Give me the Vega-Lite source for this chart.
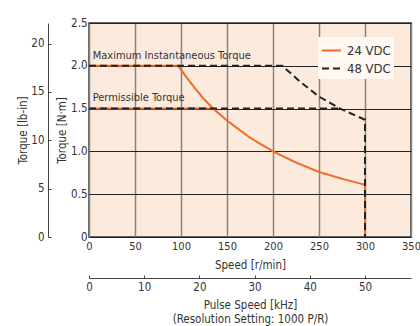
{
  "$schema": "https://vega.github.io/schema/vega-lite/v6.json",
  "width": 322,
  "height": 214,
  "autosize": {"type": "none"},
  "padding": {"left": 89, "top": 23, "right": 9, "bottom": 89},
  "background": "white",
  "config": {
    "font": "DejaVu Sans Condensed, sans-serif",
    "view": {"fill": "#FCEADC", "stroke": "#333333", "strokeWidth": 1.5},
    "axis": {"labelColor": "#333333", "titleColor": "#333333", "labelFontSize": 11.5, "titleFontSize": 11.5, "titleFontWeight": "normal", "domainColor": "#444444", "tickColor": "#444444"}
  },
  "datasets": {
    "curves": [
      {"series": "24 VDC", "seg": "24max", "i": 1, "speed": 0, "torque": 2.0},
      {"series": "24 VDC", "seg": "24max", "i": 2, "speed": 97, "torque": 2.0},
      {"series": "24 VDC", "seg": "24max", "i": 3, "speed": 105, "torque": 1.88},
      {"series": "24 VDC", "seg": "24max", "i": 4, "speed": 115, "torque": 1.74},
      {"series": "24 VDC", "seg": "24max", "i": 5, "speed": 125, "torque": 1.61},
      {"series": "24 VDC", "seg": "24max", "i": 6, "speed": 135, "torque": 1.5},
      {"series": "24 VDC", "seg": "24max", "i": 7, "speed": 150, "torque": 1.36},
      {"series": "24 VDC", "seg": "24max", "i": 8, "speed": 175, "torque": 1.16},
      {"series": "24 VDC", "seg": "24max", "i": 9, "speed": 200, "torque": 1.0},
      {"series": "24 VDC", "seg": "24max", "i": 10, "speed": 225, "torque": 0.87},
      {"series": "24 VDC", "seg": "24max", "i": 11, "speed": 250, "torque": 0.76},
      {"series": "24 VDC", "seg": "24max", "i": 12, "speed": 275, "torque": 0.68},
      {"series": "24 VDC", "seg": "24max", "i": 13, "speed": 300, "torque": 0.61},
      {"series": "24 VDC", "seg": "24max", "i": 14, "speed": 300, "torque": 0},
      {"series": "24 VDC", "seg": "24perm", "i": 1, "speed": 0, "torque": 1.5},
      {"series": "24 VDC", "seg": "24perm", "i": 2, "speed": 135, "torque": 1.5},
      {"series": "48 VDC", "seg": "48max", "i": 1, "speed": 0, "torque": 2.0},
      {"series": "48 VDC", "seg": "48max", "i": 2, "speed": 210, "torque": 2.0},
      {"series": "48 VDC", "seg": "48max", "i": 3, "speed": 230, "torque": 1.81},
      {"series": "48 VDC", "seg": "48max", "i": 4, "speed": 250, "torque": 1.64},
      {"series": "48 VDC", "seg": "48max", "i": 5, "speed": 273, "torque": 1.5},
      {"series": "48 VDC", "seg": "48max", "i": 6, "speed": 300, "torque": 1.37},
      {"series": "48 VDC", "seg": "48max", "i": 7, "speed": 300, "torque": 0},
      {"series": "48 VDC", "seg": "48perm", "i": 1, "speed": 0, "torque": 1.5},
      {"series": "48 VDC", "seg": "48perm", "i": 2, "speed": 273, "torque": 1.5}
    ],
    "notes": [
      {"speed": 4, "torque": 2.06, "label": "Maximum Instantaneous Torque"},
      {"speed": 4, "torque": 1.56, "label": "Permissible Torque"}
    ],
    "lbin": [{"v": 0}, {"v": 22.127}],
    "khz": [{"k": 0}, {"k": 58.333}]
  },
  "layer": [
    {
      "layer": [
        {
          "data": {"name": "curves"},
          "mark": {"type": "line", "strokeWidth": 2},
          "encoding": {
            "x": {"field": "speed", "type": "quantitative", "scale": {"domain": [0, 350], "nice": false},
              "axis": {"values": [0, 50, 100, 150, 200, 250, 300, 350], "title": "Speed [r/min]", "grid": true, "gridColor": "#8a827c", "gridWidth": 1.5, "domain": false, "ticks": false, "labelPadding": 3, "titlePadding": 8, "labelFlush": false, "labelFontSize": 11}},
            "y": {"field": "torque", "type": "quantitative", "scale": {"domain": [0, 2.5], "nice": false},
              "axis": {"values": [0, 0.5, 1, 1.5, 2, 2.5], "labelExpr": "datum.value == 0 ? '0' : format(datum.value, '.1f')", "title": "Torque [N·m]", "grid": true, "gridColor": "#222222", "gridWidth": 1, "domain": false, "ticks": false, "labelPadding": 2, "titlePadding": 3}},
            "color": {"field": "series", "type": "nominal", "scale": {"domain": ["24 VDC", "48 VDC"], "range": ["#F26A2A", "#222222"]},
              "legend": {"title": null, "orient": "none", "legendX": 229, "legendY": 14, "fillColor": "#FFF8F3", "padding": 3, "labelFontSize": 13, "labelColor": "#333333", "symbolType": "stroke", "symbolSize": 361, "symbolStrokeWidth": 2, "rowPadding": 0, "labelOffset": 5}},
            "strokeDash": {"field": "series", "type": "nominal", "scale": {"domain": ["24 VDC", "48 VDC"], "range": [[1, 0], [7, 4]]}, "legend": {"title": null}},
            "detail": {"field": "seg"},
            "order": {"field": "i", "type": "quantitative"}
          }
        },
        {
          "data": {"name": "notes"},
          "mark": {"type": "text", "align": "left", "baseline": "bottom", "fontSize": 11, "color": "#333333"},
          "encoding": {
            "x": {"field": "speed", "type": "quantitative"},
            "y": {"field": "torque", "type": "quantitative"},
            "text": {"field": "label"}
          }
        }
      ]
    },
    {
      "data": {"name": "lbin"},
      "mark": {"type": "point", "opacity": 0},
      "encoding": {
        "y": {"field": "v", "type": "quantitative", "scale": {"domain": [0, 22.127], "nice": false, "zero": true},
          "axis": {"orient": "left", "offset": 41, "values": [0, 5, 10, 15, 20], "title": "Torque [lb-in]", "grid": false, "tickSize": -3, "labelPadding": 7, "titlePadding": 2.5}}
      }
    },
    {
      "data": {"name": "khz"},
      "mark": {"type": "point", "opacity": 0},
      "encoding": {
        "x": {"field": "k", "type": "quantitative", "scale": {"domain": [0, 58.333], "nice": false, "zero": true},
          "axis": {"orient": "bottom", "offset": 41, "values": [0, 10, 20, 30, 40, 50], "title": ["Pulse Speed [kHz]", "(Resolution Setting: 1000 P/R)"], "titleLineHeight": 14, "grid": false, "tickSize": -3, "labelPadding": 6, "titlePadding": 7, "labelFlush": false}}
      }
    }
  ],
  "resolve": {"scale": {"x": "independent", "y": "independent"}}
}
